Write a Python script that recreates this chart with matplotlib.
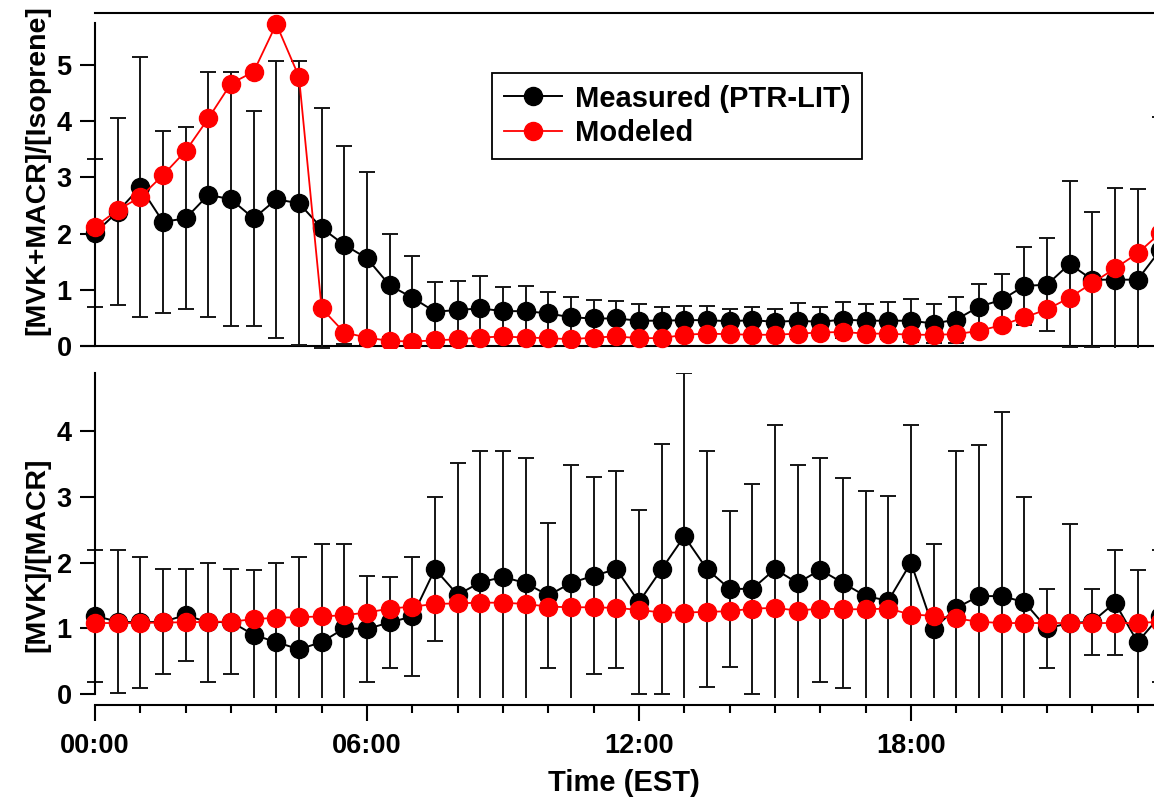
import matplotlib
matplotlib.use("Agg")
import matplotlib.pyplot as plt
import numpy as np

plt.rcParams['font.family'] = ['Liberation Sans', 'DejaVu Sans']
plt.rcParams['font.weight'] = 'bold'

# Half-hourly diurnal composite (hours, EST)
hours = np.arange(0, 24, 0.5)

# [MVK+MACR]/[Isoprene]
ratio_meas = [2.01, 2.39, 2.83, 2.21, 2.27, 2.69, 2.61, 2.27, 2.61, 2.54,
              2.10, 1.80, 1.56, 1.08, 0.86, 0.61, 0.64, 0.67, 0.62, 0.62,
              0.58, 0.51, 0.49, 0.49, 0.45, 0.45, 0.46, 0.46, 0.44, 0.46,
              0.43, 0.45, 0.43, 0.47, 0.45, 0.45, 0.45, 0.40, 0.47, 0.70,
              0.82, 1.07, 1.09, 1.46, 1.18, 1.18, 1.18, 1.71]
ratio_meas_sd = [1.31, 1.66, 2.32, 1.62, 1.62, 2.18, 2.26, 1.92, 2.46, 2.53,
                 2.13, 1.76, 1.53, 0.92, 0.74, 0.52, 0.51, 0.58, 0.43, 0.45,
                 0.38, 0.37, 0.33, 0.31, 0.29, 0.25, 0.25, 0.25, 0.21, 0.23,
                 0.22, 0.32, 0.27, 0.32, 0.30, 0.33, 0.38, 0.35, 0.41, 0.41,
                 0.47, 0.70, 0.83, 1.48, 1.20, 1.63, 1.61, 2.36]
ratio_model = [2.12, 2.42, 2.65, 3.04, 3.47, 4.05, 4.67, 4.88, 5.73, 4.79,
               0.67, 0.24, 0.15, 0.09, 0.08, 0.10, 0.12, 0.15, 0.17, 0.15,
               0.14, 0.12, 0.15, 0.17, 0.14, 0.14, 0.20, 0.22, 0.21, 0.20,
               0.20, 0.22, 0.24, 0.25, 0.22, 0.22, 0.20, 0.20, 0.21, 0.27,
               0.37, 0.51, 0.65, 0.86, 1.12, 1.38, 1.65, 2.01]

# [MVK]/[MACR]
mvk_macr_meas = [1.19, 1.10, 1.09, 1.10, 1.20, 1.09, 1.10, 0.90, 0.79, 0.68,
                 0.79, 1.00, 0.99, 1.09, 1.18, 1.90, 1.51, 1.70, 1.78, 1.69,
                 1.50, 1.69, 1.80, 1.90, 1.40, 1.90, 2.40, 1.90, 1.60, 1.60,
                 1.90, 1.69, 1.89, 1.69, 1.49, 1.42, 2.00, 0.99, 1.31, 1.49,
                 1.49, 1.40, 1.00, 1.08, 1.10, 1.39, 0.79, 1.19]
mvk_macr_meas_sd = [1.00, 1.09, 1.00, 0.80, 0.70, 0.91, 0.80, 0.99, 1.21, 1.41,
                    1.50, 1.29, 0.80, 0.69, 0.90, 1.10, 2.00, 2.00, 1.92, 1.90,
                    1.10, 1.80, 1.50, 1.50, 1.40, 1.90, 2.49, 1.80, 1.19, 1.60,
                    2.19, 1.80, 1.70, 1.60, 1.60, 1.60, 2.10, 1.30, 2.39, 2.30,
                    2.80, 1.60, 0.60, 1.50, 0.50, 0.80, 1.10, 1.00]
mvk_macr_model = [1.08, 1.08, 1.08, 1.09, 1.09, 1.10, 1.10, 1.14, 1.16, 1.17,
                  1.18, 1.20, 1.24, 1.30, 1.33, 1.37, 1.38, 1.39, 1.39, 1.37,
                  1.33, 1.32, 1.32, 1.31, 1.28, 1.24, 1.24, 1.25, 1.26, 1.30,
                  1.31, 1.27, 1.30, 1.29, 1.29, 1.30, 1.21, 1.19, 1.15, 1.10,
                  1.08, 1.08, 1.08, 1.08, 1.08, 1.08, 1.08, 1.10]

tick_hours = [0, 6, 12, 18]
tick_labels = ["00:00", "06:00", "12:00", "18:00"]
label_meas = "Measured (PTR-LIT)"
label_model = "Modeled"

W, H = 1154, 799
fig = plt.figure(figsize=(W / 100, H / 100), dpi=100)

px_per_h = 45.33
x0_px = 95.0
xlo = -0.33
xhi = 24.0


def axes_rect(y_top_px, y_bot_px):
    left = (x0_px + xlo * px_per_h) / W
    width = (xhi - xlo) * px_per_h / W
    bottom = 1 - y_bot_px / H
    height = (y_bot_px - y_top_px) / H
    return [left, bottom, width, height]


# top panel: 0 at 346 px, 56.2 px per unit
top_ylim = (-0.04, 5.93)
ax1 = fig.add_axes(axes_rect(346 - top_ylim[1] * 56.2, 346 - top_ylim[0] * 56.2))
# bottom panel: 0 at 694 px, 65.7 px per unit
bot_ylim = (-0.06, 4.88)
ax2 = fig.add_axes(axes_rect(694 - bot_ylim[1] * 65.7, 694 - bot_ylim[0] * 65.7))

lw_axis = 1.5
err_kw = dict(fmt='none', ecolor='#151515', elinewidth=1.4, capsize=5.5,
              capthick=1.4, zorder=1)
ms = 13

for ax, meas, sd, model, ylim in [
        (ax1, ratio_meas, ratio_meas_sd, ratio_model, top_ylim),
        (ax2, mvk_macr_meas, mvk_macr_meas_sd, mvk_macr_model, bot_ylim)]:
    ax.errorbar(hours, meas, yerr=sd, **err_kw)
    ax.plot(hours, meas, '-o', color='black', lw=1.4, ms=ms, zorder=2,
            label=label_meas)
    ax.plot(hours, model, '-o', color='#ff0000', lw=1.3, ms=ms, zorder=3,
            mec='#ff0000', label=label_model)
    ax.set_xlim(xlo, xhi)
    ax.set_ylim(*ylim)
    ax.spines['right'].set_visible(False)
    ax.spines['left'].set_position(('data', 0))
    for s in ax.spines.values():
        s.set_linewidth(lw_axis)
    ax.tick_params(axis='y', direction='out', length=10.8, width=lw_axis,
                   labelsize=19.5, pad=6)

# top panel framing
ax1.set_yticks([0, 1, 2, 3, 4, 5])
ax1.spines['left'].set_bounds(0, 5.75)
ax1.spines['bottom'].set_visible(False)
ax1.spines['top'].set_bounds(0, xhi)
ax1.axhline(0, color='black', lw=lw_axis, zorder=0.5)
ax1.tick_params(axis='x', bottom=False, labelbottom=False)

leg = ax1.legend(loc='upper left', bbox_to_anchor=(492 / W, 1 - 73 / H),
                 bbox_transform=fig.transFigure, borderaxespad=0,
                 fancybox=False, framealpha=1, edgecolor='black',
                 fontsize=21, handlelength=2.0, handletextpad=0.45,
                 borderpad=0.4, labelspacing=0.22, numpoints=1)
leg.get_frame().set_linewidth(1.3)

# bottom panel framing
ax2.set_yticks([0, 1, 2, 3, 4])
ax2.spines['left'].set_bounds(0, bot_ylim[1])
ax2.spines['top'].set_visible(False)
ax2.spines['bottom'].set_position(('outward', 7.5 * 0.72))
ax2.spines['bottom'].set_bounds(0, xhi)
ax2.set_xticks(tick_hours, tick_labels)
ax2.set_xticks(np.arange(0, 24, 1), minor=True)
ax2.tick_params(axis='x', which='major', direction='out', length=11.5,
                width=lw_axis, labelsize=19.5, pad=8)
ax2.tick_params(axis='x', which='minor', direction='out', length=5.8,
                width=lw_axis)

fig.text(37 / W, 1 - 170 / H, "[MVK+MACR]/[Isoprene]", rotation=90,
         ha='center', va='center', fontsize=20.5, fontweight='bold')
fig.text(37 / W, 1 - 555 / H, "[MVK]/[MACR]", rotation=90,
         ha='center', va='center', fontsize=20.5, fontweight='bold')
fig.text(624 / W, 1 - 783 / H, "Time (EST)", ha='center', va='center',
         fontsize=21, fontweight='bold')

fig.savefig("out.png", dpi=100)
